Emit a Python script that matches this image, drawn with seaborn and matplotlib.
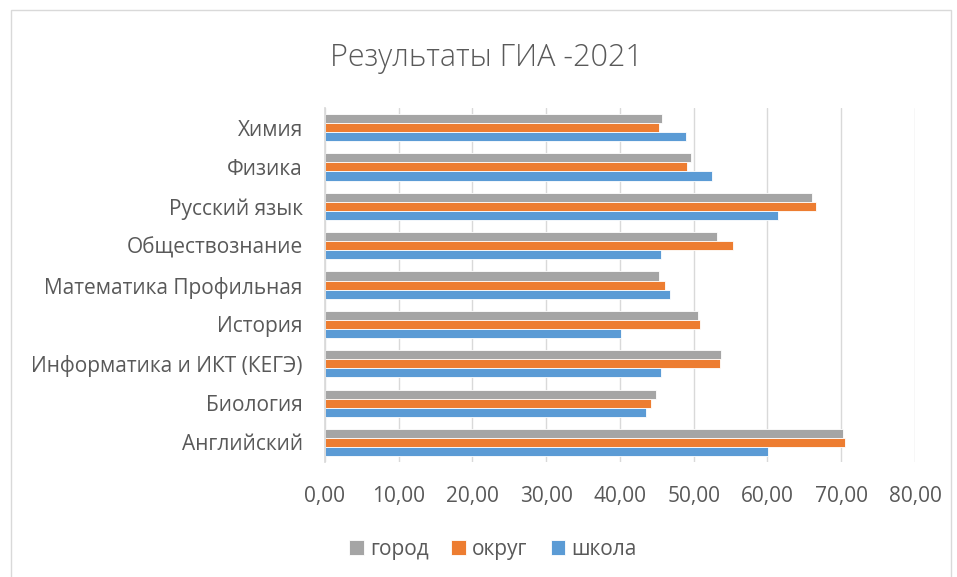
import matplotlib
matplotlib.use("Agg")
import matplotlib.pyplot as plt
import matplotlib.ticker as mticker
from matplotlib.patches import Rectangle
import pandas as pd
import seaborn as sns

subjects = ["Химия", "Физика", "Русский язык", "Обществознание",
            "Математика Профильная", "История", "Информатика и ИКТ (КЕГЭ)",
            "Биология", "Английский"]
gorod = [45.64, 49.59, 65.98, 53.22, 45.28, 50.52, 53.68, 44.92, 70.18]
okrug = [45.23, 49.07, 66.55, 55.39, 46.11, 50.88, 53.53, 44.19, 70.49]
shkola = [48.96, 52.44, 61.36, 45.54, 46.84, 40.20, 45.59, 43.57, 60.01]
series = ["город", "округ", "школа"]
x_ticks = [0, 10, 20, 30, 40, 50, 60, 70, 80]

PALETTE = {"город": "#A5A5A5", "округ": "#ED7D31", "школа": "#5B9BD5"}
TEXT = "#595959"

rows = []
for name, vals in zip(series, (gorod, okrug, shkola)):
    for s, v in zip(subjects, vals):
        rows.append({"subject": s, "series": name, "value": v})
df = pd.DataFrame(rows)

sns.set_theme(style="white")
plt.rcParams["font.family"] = ["Open Sans", "DejaVu Sans"]

fig = plt.figure(figsize=(9.57, 5.77), dpi=100)
ax = fig.add_axes([0.3396, 0.199, 0.6165, 0.614])
sns.barplot(data=df, y="subject", x="value", hue="series", order=subjects,
            hue_order=series, palette=PALETTE, orient="h", width=0.69,
            saturation=1, edgecolor="white", linewidth=0.6, errorbar=None, ax=ax)

ax.set_xlim(0, 80)
ax.set_xticks(x_ticks)
ax.xaxis.set_major_formatter(mticker.FuncFormatter(lambda v, _: f"{v:.2f}".replace(".", ",")))
ax.grid(axis="x", color="#D9D9D9", linewidth=1.0)
ax.set_axisbelow(True)
for side in ("top", "right", "bottom"):
    ax.spines[side].set_visible(False)
ax.spines["left"].set_color("#D9D9D9")
ax.tick_params(axis="x", colors=TEXT, labelsize=15, length=0, pad=17)
ax.tick_params(axis="y", colors=TEXT, labelsize=15, length=0, pad=16)
ax.set_xlabel("")
ax.set_ylabel("")

fig.text(0.508, 0.9, "Результаты ГИА -2021", ha="center", va="center",
         fontsize=22, color=TEXT, fontweight="light")

handles, labels = ax.get_legend_handles_labels()
ax.legend_.remove()
fig.legend(handles, labels, loc="center", bbox_to_anchor=(0.515, 0.048), ncol=3,
           frameon=False, fontsize=15, handlelength=0.7, handleheight=0.7,
           handletextpad=0.3, columnspacing=1.1, labelcolor=TEXT)

fig.patches.append(Rectangle((0.011, -0.05), 0.983, 1.033, transform=fig.transFigure,
                             fill=False, edgecolor="#D9D9D9", linewidth=1.0))

fig.savefig("out.png", dpi=100)
